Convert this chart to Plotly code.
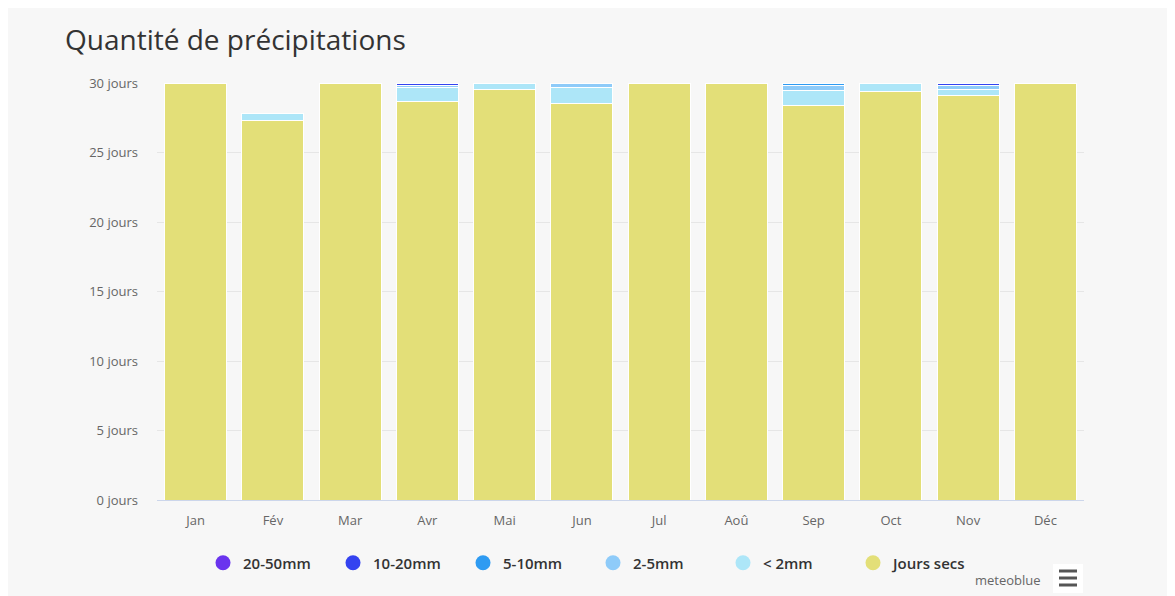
import plotly.graph_objects as go

months = ["Jan", "Fév", "Mar", "Avr", "Mai", "Jun", "Jul", "Aoû", "Sep", "Oct", "Nov", "Déc"]
dry = [30, 27.3, 30, 28.65, 29.5, 28.55, 30, 30, 28.35, 29.4, 29.1, 30]
lt2 = [0, 0.5, 0, 1.05, 0.5, 1.1, 0, 0, 1.1, 0.6, 0.45, 0]
r2_5 = [0, 0, 0, 0.1, 0, 0.35, 0, 0, 0.35, 0, 0.25, 0]
r5_10 = [0, 0, 0, 0, 0, 0, 0, 0, 0.2, 0, 0, 0]
r10_20 = [0, 0, 0, 0.2, 0, 0, 0, 0, 0, 0, 0.2, 0]
r20_50 = [0] * 12

series = [
    ("Jours secs", dry, "#e3df78"),
    ("< 2mm", lt2, "#ade6f8"),
    ("2-5mm", r2_5, "#8ecbf9"),
    ("5-10mm", r5_10, "#2e9bf2"),
    ("10-20mm", r10_20, "#3443f0"),
    ("20-50mm", r20_50, "#6a34ee"),
]

fig = go.Figure()
for name, vals, col in series:
    fig.add_trace(go.Bar(x=months, y=vals, name=name, marker=dict(color=col, line=dict(color="#ffffff", width=1)),
                         showlegend=False))
for name, vals, col in reversed(series):
    fig.add_trace(go.Scatter(x=[None], y=[None], mode="markers", name=name,
                             marker=dict(symbol="circle", size=15, color=col)))


def px(x):
    return (x - 157) / 927


def py(y):
    return (500 - y) / 417


font = "Open Sans, Noto Sans, sans-serif"
ham = [dict(type="rect", xref="paper", yref="paper", x0=px(1059), x1=px(1077), y0=py(yy + 1.5), y1=py(yy - 1.5),
            fillcolor="#555555", line=dict(width=0)) for yy in (571, 578, 585)]
fig.update_layout(
    width=1175, height=596,
    barmode="stack", bargap=0.2,
    paper_bgcolor="#f7f7f7", plot_bgcolor="#f7f7f7",
    margin=dict(l=149, r=99, t=75, b=104),
    title=dict(text="Quantité de précipitations", x=57 / 1175, xanchor="left", y=1 - 32 / 596, yanchor="middle",
               font=dict(family=font, size=28, color="#333333")),
    xaxis=dict(showgrid=False, showline=True, linecolor="#ccd6eb", ticks="", tickfont=dict(family=font, size=13, color="#666666"),
               ticklabelstandoff=8),
    yaxis=dict(range=[0, 30], dtick=5, ticksuffix=" jours", gridcolor="#e6e6e6", zeroline=False,
               tickfont=dict(family=font, size=13, color="#666666"), ticklabelstandoff=18),
    legend=dict(orientation="h", traceorder="normal", x=px(203), xanchor="left", y=py(563), yanchor="middle",
                font=dict(family=font, size=15, color="#333333", weight=600), bgcolor="rgba(0,0,0,0)", itemwidth=30,
                entrywidth=85, entrywidthmode="pixels"),
    shapes=[
        dict(type="rect", xref="paper", yref="paper", x0=px(1053), x1=px(1083),
             y0=py(593), y1=py(564), fillcolor="#ffffff", line=dict(width=0)),
    ] + ham,
    annotations=[
        dict(text="meteoblue", xref="paper", yref="paper", x=px(1043), y=py(580),
             xanchor="right", yanchor="middle", showarrow=False, font=dict(family=font, size=13, color="#666666")),
    ],
)

fig.write_html("out.html")
